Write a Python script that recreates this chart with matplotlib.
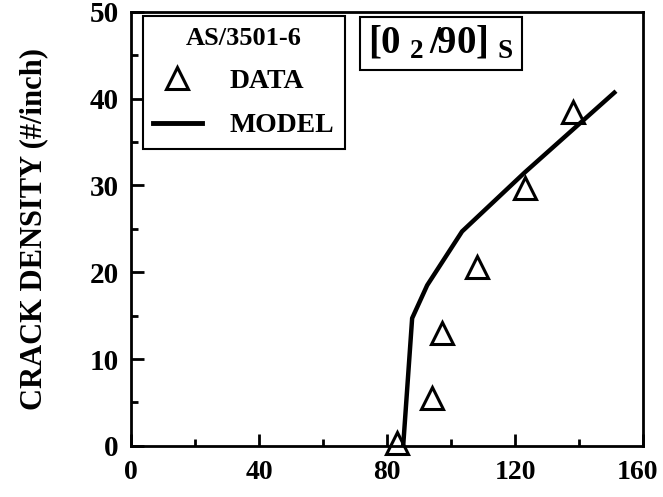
import matplotlib.pyplot as plt
import matplotlib.transforms as mtransforms
from matplotlib.lines import Line2D

# Crack density vs. applied stress, AS/3501-6 [0_2/90]s laminate
data_stress = [83, 94, 97, 108, 123, 138]
data_density = [0.3, 5.5, 13.0, 20.6, 29.7, 38.5]

model_stress = [85, 87.8, 92.5, 103.4, 123, 151]
model_density = [0, 14.7, 18.5, 24.7, 31.5, 40.7]

xticks_major = [0, 40, 80, 120, 160]
xticks_minor = [20, 60, 100, 140]
yticks_major = [0, 10, 20, 30, 40, 50]
yticks_minor = [5, 15, 25, 35, 45]

plt.rcParams['font.family'] = 'Liberation Serif'
plt.rcParams['font.weight'] = 'bold'
plt.rcParams['mathtext.fontset'] = 'custom'
plt.rcParams['mathtext.rm'] = 'Liberation Serif:bold'
plt.rcParams['mathtext.it'] = 'Liberation Serif:bold'
plt.rcParams['mathtext.bf'] = 'Liberation Serif:bold'

fig = plt.figure(figsize=(6.63, 4.97), dpi=100)
ax = fig.add_axes([0.198, 0.103, 0.772, 0.873])

ax.plot(model_stress, model_density, color='black', linewidth=3.2, zorder=2)
ax.plot(data_stress, data_density, linestyle='none', marker='^', markersize=16,
        markerfacecolor='none', markeredgecolor='black', markeredgewidth=2.2,
        clip_on=False, zorder=3)

ax.set_xlim(0, 160)
ax.set_ylim(0, 50)
ax.set_xticks(xticks_major)
ax.set_xticks(xticks_minor, minor=True)
ax.set_yticks(yticks_major)
ax.set_yticks(yticks_minor, minor=True)
ax.tick_params(which='both', direction='in', width=2, labelsize=21)
ax.tick_params(axis='x', pad=10, labelsize=20)
ax.tick_params(axis='y', pad=9)
ax.tick_params(which='major', length=9)
ax.tick_params(which='minor', length=5)
for lab in ax.get_xticklabels() + ax.get_yticklabels():
    lab.set_fontweight('bold')
# nudge the last x label so it stays inside the figure
last = ax.get_xticklabels()[-1]
last.set_transform(last.get_transform() +
                   mtransforms.ScaledTranslation(-4 / 72, 0, fig.dpi_scale_trans))
for s in ax.spines.values():
    s.set_linewidth(2)

ax.set_ylabel('CRACK DENSITY (#/inch)', fontsize=22, fontweight='bold', labelpad=30)

# legend box
handles = [
    Line2D([], [], linestyle='none', marker='^', markersize=16, markerfacecolor='none',
           markeredgecolor='black', markeredgewidth=2.2),
    Line2D([], [], color='black', linewidth=3.5),
]
leg = ax.legend(handles, ['DATA', 'MODEL'], title='AS/3501-6', loc='upper left',
                bbox_to_anchor=(0.022, 0.99), fancybox=False, framealpha=1,
                edgecolor='black', prop={'size': 20, 'weight': 'bold'},
                handlelength=1.75, handletextpad=1.0, borderpad=0.38, labelspacing=0.68,
                borderaxespad=0.0)
leg.get_title().set_fontsize(19)
leg.get_title().set_fontweight('bold')
leg.get_frame().set_linewidth(1.5)

ax.text(0.463, 0.928, r'$\mathrm{[0\;{}_2\,/90]\;{}_S}$', transform=ax.transAxes, fontsize=28,
        ha='left', va='center',
        bbox=dict(boxstyle='square,pad=0.2', facecolor='white', edgecolor='black', linewidth=1.5))

fig.savefig('out.png', dpi=100)
